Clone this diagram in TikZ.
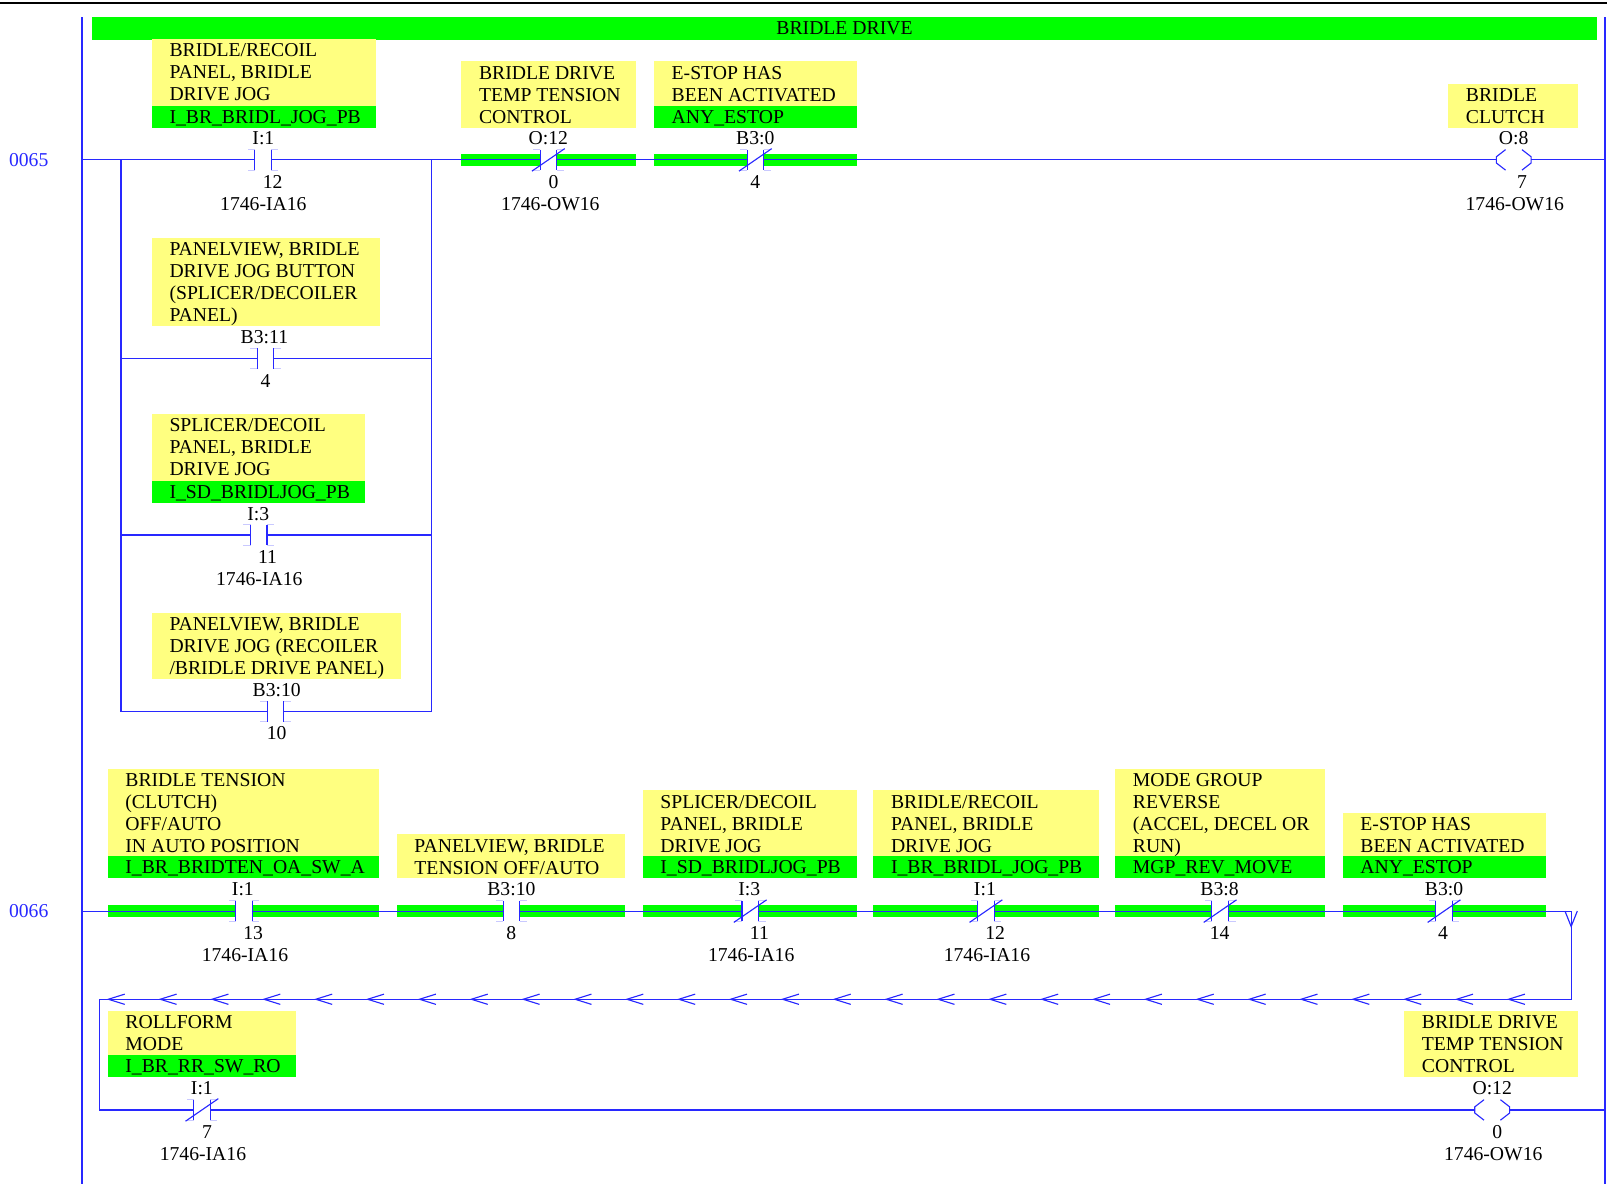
\documentclass[tikz,border=0pt]{standalone}
\usepackage{fontspec}
\setmainfont{Liberation Serif}
\usetikzlibrary{calc}

\definecolor{wireblue}{RGB}{40,40,255}
\definecolor{tagyellow}{RGB}{255,255,128}
\definecolor{taggreen}{RGB}{0,255,0}

\tikzset{
  wire/.style={draw=wireblue, line width=0.55pt},
  tick/.style={draw=wireblue!25, line width=0.5pt},
  lbl/.style={font=\fontsize{9.6}{10.75}\selectfont, inner sep=0pt, anchor=base},
  cmt/.style={font=\fontsize{9.6}{10.75}\selectfont, inner sep=0pt, anchor=north west, align=left},
  rungno/.style={lbl, text=wireblue},
  nocon/.pic={
    \coordinate (-l) at (-8,0);
    \coordinate (-r) at (8,0);
    \draw[tick] (-8,-10) -- (-15,-10) (-8,10) -- (-15,10)
                (8,-10) -- (15,-10) (8,10) -- (15,10);
    \draw[wire] (-8,-10) -- (-8,10) (8,-10) -- (8,10);
  },
  nccon/.pic={
    \coordinate (-l) at (-8,0);
    \coordinate (-r) at (8,0);
    \draw[tick] (-8,-10) -- (-15,-10) (-8,10) -- (-15,10)
                (8,-10) -- (15,-10) (8,10) -- (15,10);
    \draw[wire] (-8,-10) -- (-8,10) (8,-10) -- (8,10);
    \draw[wire] (-16,11) -- (16,-11);
  },
  coil/.pic={
    \coordinate (-l) at (-17,0);
    \coordinate (-r) at (17,0);
    \draw[wire] (-8,-10) -- (-17,-3) -- (-17,3) -- (-8,10)
                (8,-10) -- (17,-3) -- (17,3) -- (8,10);
  }
}

% comment box: name, x1, x2, top, bottom, lines
\newcommand{\tagbox}[6]{%
  \fill[tagyellow] (#2,#4) rectangle (#3,#5);
  \node[cmt] (#1) at (#2+17,#4) {\rule{0pt}{8.5pt}#6};}
% symbol strip: name, x1, x2, top, text
\newcommand{\tagsym}[5]{%
  \fill[taggreen] (#2,#4) rectangle (#3,#4+22);
  \node[cmt] (#1) at (#2+17,#4) {\rule{0pt}{8.5pt}#5};}
% true-state highlight: contact, x1, x2, rung y
\newcommand{\hilite}[4]{%
  \fill[taggreen] (#2,#4-5.5) rectangle ($(#1)+(-8,5.5)$);
  \fill[taggreen] ($(#1)+(8,-5.5)$) rectangle (#3,#4+5.5);}

\begin{document}
\begin{tikzpicture}[x=0.5pt, y=-0.5pt]
  \useasboundingbox (0,0) rectangle (1568,1155);

  % page frame and rails
  \coordinate (topL) at (0,3);
  \coordinate (topR) at (1568,3);
  \draw[line width=0.8pt] (topL) -- (topR);
  \coordinate (railLT) at (80,17);
  \coordinate (railLB) at (80,1155);
  \coordinate (railRT) at (1566,17);
  \coordinate (railRB) at (1566,1155);

  \fill[taggreen] (90,17) rectangle (1558,39);
  \node[lbl] (title) at (824,34) {BRIDLE DRIVE};

  \node[rungno] (n65) at (28,162.5) {0065};
  \node[rungno] (n66) at (28,895.5) {0066};

  % rung 0065 comments
  \tagbox{t1}{148}{367}{38}{103}{BRIDLE/RECOIL\\PANEL, BRIDLE\\DRIVE JOG}
  \tagsym{s1}{148}{367}{103}{I\_BR\_BRIDL\_JOG\_PB}
  \tagbox{t2}{450}{621}{60}{125}{BRIDLE DRIVE\\TEMP TENSION\\CONTROL}
  \tagbox{t3}{638}{836}{60}{103}{E-STOP HAS\\BEEN ACTIVATED}
  \tagsym{s3}{638}{836}{103}{ANY\_ESTOP}
  \tagbox{t4}{1413}{1540}{82}{125}{BRIDLE\\CLUTCH}
  \tagbox{t5}{148}{371}{232}{318}{PANELVIEW, BRIDLE\\DRIVE JOG BUTTON\\(SPLICER/DECOILER\\PANEL)}
  \tagbox{t6}{148}{356}{404}{469}{SPLICER/DECOIL\\PANEL, BRIDLE\\DRIVE JOG}
  \tagsym{s6}{148}{356}{469}{I\_SD\_BRIDLJOG\_PB}
  \tagbox{t7}{148}{391}{598}{663}{PANELVIEW, BRIDLE\\DRIVE JOG (RECOILER\\/BRIDLE DRIVE PANEL)}

  % rung 0066 comments
  \tagbox{u1}{105}{370}{750}{835}{BRIDLE TENSION\\(CLUTCH)\\OFF/AUTO\\IN AUTO POSITION}
  \tagsym{v1}{105}{370}{835}{I\_BR\_BRIDTEN\_OA\_SW\_A}
  \tagbox{u2}{387}{610}{814}{857}{PANELVIEW, BRIDLE\\TENSION OFF/AUTO}
  \tagbox{u3}{627}{836}{771}{835}{SPLICER/DECOIL\\PANEL, BRIDLE\\DRIVE JOG}
  \tagsym{v3}{627}{836}{835}{I\_SD\_BRIDLJOG\_PB}
  \tagbox{u4}{852}{1072}{771}{835}{BRIDLE/RECOIL\\PANEL, BRIDLE\\DRIVE JOG}
  \tagsym{v4}{852}{1072}{835}{I\_BR\_BRIDL\_JOG\_PB}
  \tagbox{u5}{1088}{1293}{750}{835}{MODE GROUP\\REVERSE\\(ACCEL, DECEL OR\\RUN)}
  \tagsym{v5}{1088}{1293}{835}{MGP\_REV\_MOVE}
  \tagbox{u6}{1310}{1508}{793}{835}{E-STOP HAS\\BEEN ACTIVATED}
  \tagsym{v6}{1310}{1508}{835}{ANY\_ESTOP}
  \tagbox{u7}{105}{289}{986}{1029}{ROLLFORM\\MODE}
  \tagsym{v7}{105}{289}{1029}{I\_BR\_RR\_SW\_RO}
  \tagbox{u8}{1370}{1540}{986}{1051}{BRIDLE DRIVE\\TEMP TENSION\\CONTROL}

  % instructions
  \coordinate (c1) at (256.5,156);
  \coordinate (c2) at (535,156);
  \coordinate (c3) at (737,156);
  \coordinate (q1) at (1477,156);
  \coordinate (c4) at (259,350);
  \coordinate (c5) at (252.5,522);
  \coordinate (c6) at (269,694);
  \coordinate (d1) at (238,889);
  \coordinate (d2) at (499,889);
  \coordinate (d3) at (732,889);
  \coordinate (d4) at (962,889);
  \coordinate (d5) at (1190.5,889);
  \coordinate (d6) at (1409,889);
  \coordinate (e1) at (197,1083);
  \coordinate (q2) at (1456,1083);

  % highlights of true instructions
  \hilite{c2}{450}{621}{156}
  \hilite{c3}{638}{836}{156}
  \hilite{d1}{105}{370}{889}
  \hilite{d2}{387}{610}{889}
  \hilite{d3}{627}{836}{889}
  \hilite{d4}{852}{1072}{889}
  \hilite{d5}{1088}{1293}{889}
  \hilite{d6}{1310}{1508}{889}

  \pic (c1) at (c1) {nocon};
  \pic (c2) at (c2) {nccon};
  \pic (c3) at (c3) {nccon};
  \pic (q1) at (q1) {coil};
  \pic (c4) at (c4) {nocon};
  \pic (c5) at (c5) {nocon};
  \pic (c6) at (c6) {nocon};
  \pic (d1) at (d1) {nocon};
  \pic (d2) at (d2) {nocon};
  \pic (d3) at (d3) {nccon};
  \pic (d4) at (d4) {nccon};
  \pic (d5) at (d5) {nccon};
  \pic (d6) at (d6) {nccon};
  \pic (e1) at (e1) {nccon};
  \pic (q2) at (q2) {coil};

  % rails
  \draw[wire] (railLT) -- (railLB);
  \draw[wire] (railRT) -- (railRB);

  % rung 0065
  \coordinate (r65L) at (80,156);
  \coordinate (r65R) at (1566,156);
  \coordinate (brL) at (118,156);
  \coordinate (brR) at (421,156);
  \draw[wire] (r65L) -- (c1-l) (c1-r) -- (c2-l) (c2-r) -- (c3-l)
              (c3-r) -- (q1-l) (q1-r) -- (r65R);
  \draw[wire] (brL) |- (c6-l) (c6-r) -| (brR);
  \draw[wire] (brL |- c4-l) -- (c4-l) (c4-r) -- (brR |- c4-r);
  \draw[wire] (brL |- c5-l) -- (c5-l) (c5-r) -- (brR |- c5-r);

  % rung 0066
  \coordinate (r66L) at (80,889);
  \coordinate (wrapT) at (1533,889);
  \coordinate (wrapB) at (1533,975);
  \coordinate (retL) at (97,975);
  \coordinate (r66R) at (1566,1083);
  \draw[wire] (r66L) -- (d1-l) (d1-r) -- (d2-l) (d2-r) -- (d3-l)
              (d3-r) -- (d4-l) (d4-r) -- (d5-l) (d5-r) -- (d6-l)
              (d6-r) -- (wrapT) -- (wrapB) -- (retL) |- (e1-l)
              (e1-r) -- (q2-l) (q2-r) -- (r66R);
  \draw[wire] ($(wrapT)+(-6,0)$) -- ($(wrapT)+(0,15)$) -- ($(wrapT)+(6,0)$);
  \foreach \k [evaluate=\k as \tx using 105.7+50.6*\k] in {0,...,27}
    \draw[wire] (\tx+16,970) -- (\tx,975) -- (\tx+16,980);

  % addresses
  \node[lbl] (c1a) at (257,141) {I:1};
  \node[lbl] (c1b) at (266,184) {12};
  \node[lbl] (c1m) at (257,205.5) {1746-IA16};
  \node[lbl] (c2a) at (535,141) {O:12};
  \node[lbl] (c2b) at (540,184) {0};
  \node[lbl] (c2m) at (537,205.5) {1746-OW16};
  \node[lbl] (c3a) at (737,141) {B3:0};
  \node[lbl] (c3b) at (737,184) {4};
  \node[lbl] (q1a) at (1477,141) {O:8};
  \node[lbl] (q1b) at (1485,184) {7};
  \node[lbl] (q1m) at (1478,205.5) {1746-OW16};
  \node[lbl] (c4a) at (258,335.5) {B3:11};
  \node[lbl] (c4b) at (259,378) {4};
  \node[lbl] (c5a) at (252,507.5) {I:3};
  \node[lbl] (c5b) at (261,550) {11};
  \node[lbl] (c5m) at (253,571.5) {1746-IA16};
  \node[lbl] (c6a) at (270,679.5) {B3:10};
  \node[lbl] (c6b) at (270,722) {10};

  \node[lbl] (d1a) at (237,874) {I:1};
  \node[lbl] (d1b) at (247,917) {13};
  \node[lbl] (d1m) at (239,938.5) {1746-IA16};
  \node[lbl] (d2a) at (499,874) {B3:10};
  \node[lbl] (d2b) at (499,917) {8};
  \node[lbl] (d3a) at (731,874) {I:3};
  \node[lbl] (d3b) at (741,917) {11};
  \node[lbl] (d3m) at (733,938.5) {1746-IA16};
  \node[lbl] (d4a) at (961,874) {I:1};
  \node[lbl] (d4b) at (971,917) {12};
  \node[lbl] (d4m) at (963,938.5) {1746-IA16};
  \node[lbl] (d5a) at (1190,874) {B3:8};
  \node[lbl] (d5b) at (1190,917) {14};
  \node[lbl] (d6a) at (1409,874) {B3:0};
  \node[lbl] (d6b) at (1408,917) {4};
  \node[lbl] (e1a) at (197,1068) {I:1};
  \node[lbl] (e1b) at (202,1111) {7};
  \node[lbl] (e1m) at (198,1132.5) {1746-IA16};
  \node[lbl] (q2a) at (1456,1068) {O:12};
  \node[lbl] (q2b) at (1461,1111) {0};
  \node[lbl] (q2m) at (1457,1132.5) {1746-OW16};
\end{tikzpicture}
\end{document}
